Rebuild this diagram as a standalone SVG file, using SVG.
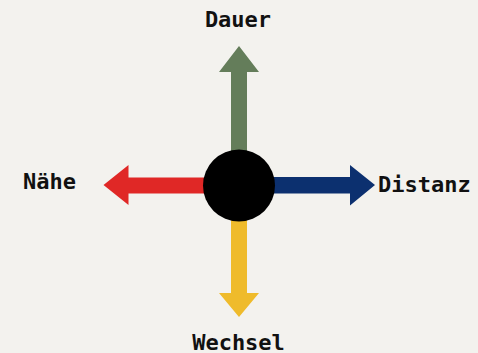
<svg xmlns="http://www.w3.org/2000/svg" width="478" height="353" viewBox="0 0 478 353">
<style>
.lbl{font-family:"DejaVu Sans Mono","Liberation Mono",monospace;font-weight:bold;font-size:22px;fill:#111}
</style>
<rect width="478" height="353" fill="#f3f2ee"/>
<g id="connectors">
<polygon id="up" fill="#647d5a" points="231,160 231,72 219,72 239,46 259,72 247,72 247,160"/>
<polygon id="right" fill="#0c306f" points="260,177 350,177 350,165 375,185 350,205.5 350,193.5 260,193.5"/>
<polygon id="down" fill="#efbb2b" points="231,210 231,293 219,293 239,317 259,293 247,293 247,210"/>
<polygon id="left" fill="#e02826" points="215,177.5 128.5,177.5 128.5,165 103.5,185 128.5,205 128.5,193.5 215,193.5"/>
</g>
<g id="center"><circle cx="239" cy="185.5" r="36" fill="#000"/></g>
<g id="dauer"><text class="lbl" x="238" y="27" text-anchor="middle">Dauer</text></g>
<g id="distanz"><text class="lbl" x="378" y="191.5">Distanz</text></g>
<g id="wechsel"><text class="lbl" x="238.5" y="349.5" text-anchor="middle">Wechsel</text></g>
<g id="naehe"><text class="lbl" x="49.5" y="188.5" text-anchor="middle">Nähe</text></g>
</svg>
